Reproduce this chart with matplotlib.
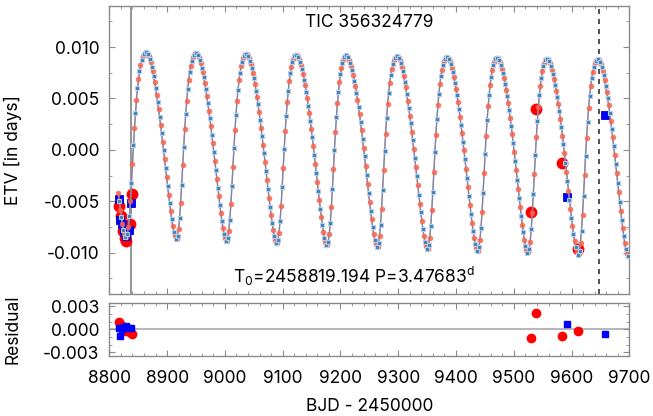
import numpy as np
import matplotlib
matplotlib.use('Agg')
import matplotlib.pyplot as plt
from matplotlib.ticker import MultipleLocator, FormatStrFormatter

FONT = 'Inter'
plt.rcParams['font.family'] = [FONT, 'DejaVu Sans']
plt.rcParams['mathtext.fontset'] = 'custom'
plt.rcParams['mathtext.rm'] = FONT
plt.rcParams['mathtext.it'] = FONT + ':italic'
plt.rcParams['axes.unicode_minus'] = False

# ---------------- data ----------------
title_text = "TIC 356324779"
T0 = 8819.194          # reference epoch (BJD - 2450000)
P_bin = 3.47683        # binary period [d]
t_start, t_end = 8815.0, 9700.0

# LTTE model parameters (outer orbit)
P_out = 86.9
ecc = 0.45
omega_deg = -35.0
tau = 8836.5
amp_start, amp_end = 0.00973, 0.01027
off_start, off_end = -0.00206, -0.0034
t_ref_start, t_ref_end = 8870.0, 9650.0

# observed primary minima (large red circles)
prim_obs_t = [8816.8, 8819.5, 8823.5, 8826.5, 8829.5, 8835.8, 8839.0,
              9530.5, 9537.5, 9584.0, 9610.5]
prim_obs = [-0.0055, -0.0064, -0.0079, -0.0086, -0.0089, -0.0072, -0.0043,
            -0.0060, 0.0040, -0.0013, -0.0096]
prim_res = [0.0010, 0.0005, 0.0002, -0.0001, -0.0002, -0.0003, -0.0006,
            -0.0011, 0.0021, -0.0009, -0.0002]

# observed secondary minima (large blue squares)
sec_obs_t = [8816.5, 8818.5, 8821.5, 8825.0, 8829.0, 8834.0, 8837.8,
             9591.5, 9657.0]
sec_obs = [-0.0048, -0.0068, -0.0072, -0.0080, -0.0084, -0.0078, -0.0052,
           -0.0046, 0.0034]
sec_res = [0.0002, -0.0009, 0.0000, 0.0003, 0.0004, 0.0002, 0.0002,
           0.0007, -0.0006]

vline_solid = 8837.5
vline_dashed = 9647.5


def ltte_model(t):
    t = np.asarray(t, dtype=float)
    M = 2 * np.pi * (t - tau) / P_out
    E = M.copy()
    for _ in range(50):
        E = E - (E - ecc * np.sin(E) - M) / (1 - ecc * np.cos(E))
    v = 2 * np.arctan2(np.sqrt(1 + ecc) * np.sin(E / 2),
                       np.sqrt(1 - ecc) * np.cos(E / 2))
    w = np.radians(omega_deg)
    z = (1 - ecc**2) / (1 + ecc * np.cos(v)) * np.sin(v + w)
    frac = (t - t_ref_start) / (t_ref_end - t_ref_start)
    amp = amp_start + (amp_end - amp_start) * frac
    off = off_start + (off_end - off_start) * frac
    return amp * z + off


n_p = np.arange(np.ceil((t_start - T0) / P_bin), np.floor((t_end - T0) / P_bin) + 1)
tp = T0 + n_p * P_bin
n_s = np.arange(np.ceil((t_start - T0) / P_bin - 0.5), np.floor((t_end - T0) / P_bin - 0.5) + 1)
ts = T0 + (n_s + 0.5) * P_bin
mp = ltte_model(tp)
ms = ltte_model(ts)

# ---------------- figure ----------------
fig = plt.figure(figsize=(6.53, 4.16), dpi=100)
ax1 = fig.add_axes([0.1674, 0.2938, 0.7965, 0.6918])
ax2 = fig.add_axes([0.1674, 0.1442, 0.7965, 0.1286])

FS = 12.5
frame_col = '#8a8a8a'
for ax in (ax1, ax2):
    for sp in ax.spines.values():
        sp.set_color(frame_col)
        sp.set_linewidth(1.0)
    ax.tick_params(which='both', direction='in', top=True, right=True,
                   color=frame_col, labelsize=FS)
    ax.tick_params(which='major', length=4, width=0.8)
    ax.tick_params(which='minor', length=2, width=0.6)
    ax.set_xlim(8800, 9700)
    ax.xaxis.set_major_locator(MultipleLocator(100))
    ax.xaxis.set_minor_locator(MultipleLocator(20))

# main panel
ax1.axvline(vline_solid, color='#8c8c8c', lw=1.3, zorder=1)
ax1.axvline(vline_dashed, color='#333333', lw=1.2, dashes=(3, 3), zorder=1)

ax1.plot(prim_obs_t, prim_obs, 'o', color='#ff0000', ms=7.5, mec='#ff0000',
         zorder=3)
ax1.plot(sec_obs_t, sec_obs, 's', color='#0000ff', ms=6.2, mec='#0000cc',
         mew=0.6, zorder=3)

ax1.plot(tp, mp, '-', color='#f4826e', lw=1.0, zorder=4)
ax1.plot(tp, mp, 'o', color='#f7654f', ms=4.0, mec='none', alpha=0.85, zorder=5)
ax1.plot(ts, ms, '-', color='#5b8fc0', lw=0.9, alpha=0.9, zorder=4)
ax1.plot(ts, ms, 's', color='#3f7fb8', ms=3.2, mec='#b5cde6', mew=0.8, zorder=6)

ax1.set_ylim(-0.014, 0.014)
ax1.yaxis.set_major_locator(MultipleLocator(0.005))
ax1.yaxis.set_minor_locator(MultipleLocator(0.0025))
ax1.yaxis.set_major_formatter(FormatStrFormatter('%.3f'))
ax1.tick_params(axis='x', labelbottom=False)
ax1.tick_params(axis='y', pad=7)
ax1.set_ylabel('ETV [in days]', fontsize=FS)
ax1.yaxis.set_label_coords(-0.168, 0.5)

ax1.text(0.5, 0.941, title_text, transform=ax1.transAxes, ha='center',
         va='center', fontsize=FS)
ax1.text(0.47, 0.039,
         r'T$_0$=2458819.194 P=3.47683$^{\mathrm{d}}$',
         transform=ax1.transAxes, ha='center', va='baseline', fontsize=FS)

# residual panel
ax2.axhline(0.0, color='#b8b8b8', lw=1.5, zorder=1)
ax2.plot(prim_obs_t, prim_res, 'o', color='#ff0000', ms=6.0, mec='#ff0000',
         zorder=3)
ax2.plot(sec_obs_t, sec_res, 's', color='#0000ff', ms=4.8, mec='#0000ff',
         zorder=4)
ax2.set_ylim(-0.0035, 0.0035)
ax2.yaxis.set_major_locator(MultipleLocator(0.003))
ax2.yaxis.set_minor_locator(MultipleLocator(0.001))
ax2.yaxis.set_major_formatter(FormatStrFormatter('%.3f'))
ax2.tick_params(axis='y', pad=7)
ax2.tick_params(axis='x', pad=10)
ax2.set_ylabel('Residual', fontsize=FS)
ax2.yaxis.set_label_coords(-0.168, 0.5)
ax2.set_xlabel('BJD - 2450000', fontsize=FS, labelpad=8)

fig.savefig('out.png', dpi=100)
